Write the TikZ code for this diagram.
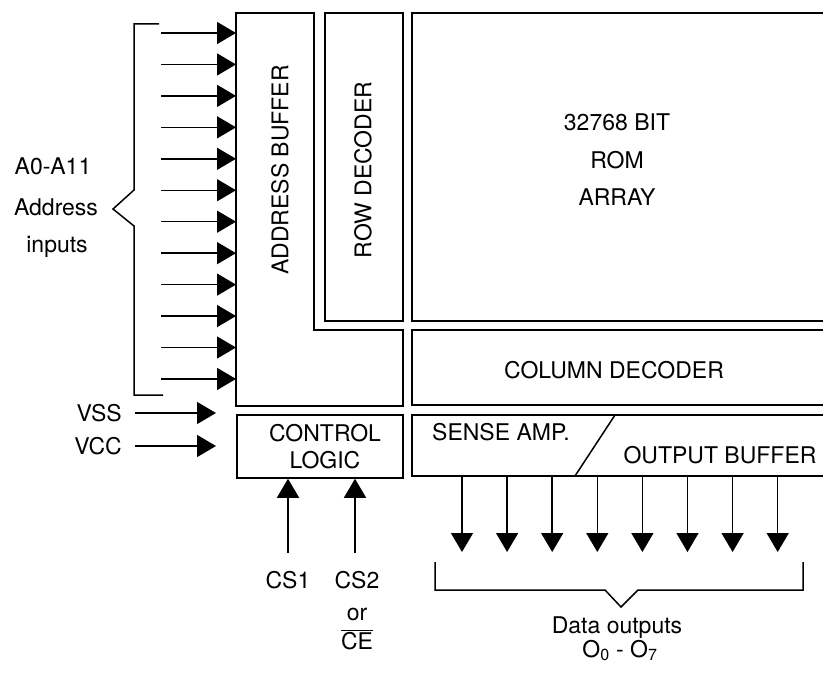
\documentclass[tikz,border=0pt]{standalone}
\usepackage{fontspec}
\setmainfont{TeX Gyre Heros}
\usetikzlibrary{arrows.meta}
\tikzset{
  blk/.style={line width=1.5pt},
  sig/.style={line width=1.5pt, -{Triangle[length=19pt,width=22pt]}},
  lbl/.style={font=\fontsize{23}{27}\selectfont, inner sep=0pt},
}

\begin{document}
\begin{tikzpicture}[x=1pt, y=-1pt, line join=miter]
  \useasboundingbox (0,0) rectangle (823,677);
  % address buffer, L shaped
  \coordinate (abNW) at (236,13);
  \draw[blk] (abNW) -- (314,13) -- (314,330) -- (403,330) -- (403,406) -- (236,406) -- cycle;
  \node[lbl, rotate=90] (abuf) at (280,170) {ADDRESS BUFFER};
  % row decoder
  \node[blk, draw, minimum width=78pt, minimum height=308pt, inner sep=0pt] (rowdec) at (364,167) {};
  \node[lbl, rotate=90] (rowlbl) at (363,170) {ROW DECODER};
  % rom array, open to the right
  \draw[blk] (823,13) -| (412,321) -- (823,321);
  \node[lbl, anchor=base] (rom1) at (617,131) {32768 BIT};
  \node[lbl, anchor=base] (rom2) at (617,168) {ROM};
  \node[lbl, anchor=base] (rom3) at (617,205) {ARRAY};
  % column decoder
  \draw[blk] (823,330) -| (412,405) -- (823,405);
  \node[lbl, anchor=base] (collbl) at (614,378) {COLUMN DECODER};
  % sense amp / output buffer
  \coordinate (sa) at (412,476);
  \draw[blk] (823,415) -| (sa) -- (823,476);
  \draw[blk] (615,415) -- (575,476);
  \node[lbl, anchor=base west] (salbl) at (432,440) {SENSE AMP.};
  \node[lbl, anchor=base] (oblbl) at (720,463) {OUTPUT BUFFER};
  % control logic
  \node[blk, draw, minimum width=166pt, minimum height=63pt, inner sep=0pt] (ctrl) at (320,446.5) {};
  \node[lbl, anchor=base] (ctrl1) at (325,441) {CONTROL};
  \node[lbl, anchor=base] (ctrl2) at (325,468) {LOGIC};

  % address inputs
  \foreach \i in {0,...,11} {
    \coordinate (a\i) at (161,33+31.45*\i);
    \draw[sig] (a\i) -- (a\i -| abNW);
  }
  \draw[blk] (159,24) -- (134,24) -- (134,190) -- (113,209) -- (134,226) -- (134,395) -- (163,395);
  \node[lbl, anchor=base] (ain1) at (53,175) {A0-A11};
  \node[lbl, anchor=base] (ain2) at (56,215) {Address};
  \node[lbl, anchor=base] (ain3) at (57,252) {inputs};

  % supply
  \node[lbl, anchor=base east] (vss) at (122,421) {VSS};
  \node[lbl, anchor=base east] (vcc) at (122,454) {VCC};
  \coordinate (vssS) at (135,413);
  \coordinate (vccS) at (135,446);
  \draw[sig] (vssS) -- ++(81,0);
  \draw[sig] (vccS) -- ++(81,0);

  % chip selects
  \coordinate (cs1S) at (288,553);
  \coordinate (cs2S) at (355,553);
  \draw[sig] (cs1S) -- (cs1S |- ctrl.south);
  \draw[sig] (cs2S) -- (cs2S |- ctrl.south);
  \node[lbl, anchor=base] (cs1) at (288,588) {CS1};
  \node[lbl, anchor=base] (cs2) at (357,588) {CS2};
  \node[lbl, anchor=base] (csor) at (357,620) {or};
  \node[lbl, anchor=base] (ce) at (357,649) {$\overline{\mbox{CE}}$};

  % data outputs
  \foreach \i in {0,...,7} {
    \coordinate (d\i) at (462+45.1*\i,476);
    \draw[sig] (d\i) -- ++(0,76);
  }
  \draw[blk] (435,562) -- (435,590) -- (605,590) -- (621,607) -- (638,590) -- (803,590) -- (803,562);
  \node[lbl, anchor=base] (dout1) at (617,633) {Data outputs};
  \node[lbl, anchor=base] (dout2) at (620,657) {O\textsubscript{0} - O\textsubscript{7}};
\end{tikzpicture}
\end{document}
